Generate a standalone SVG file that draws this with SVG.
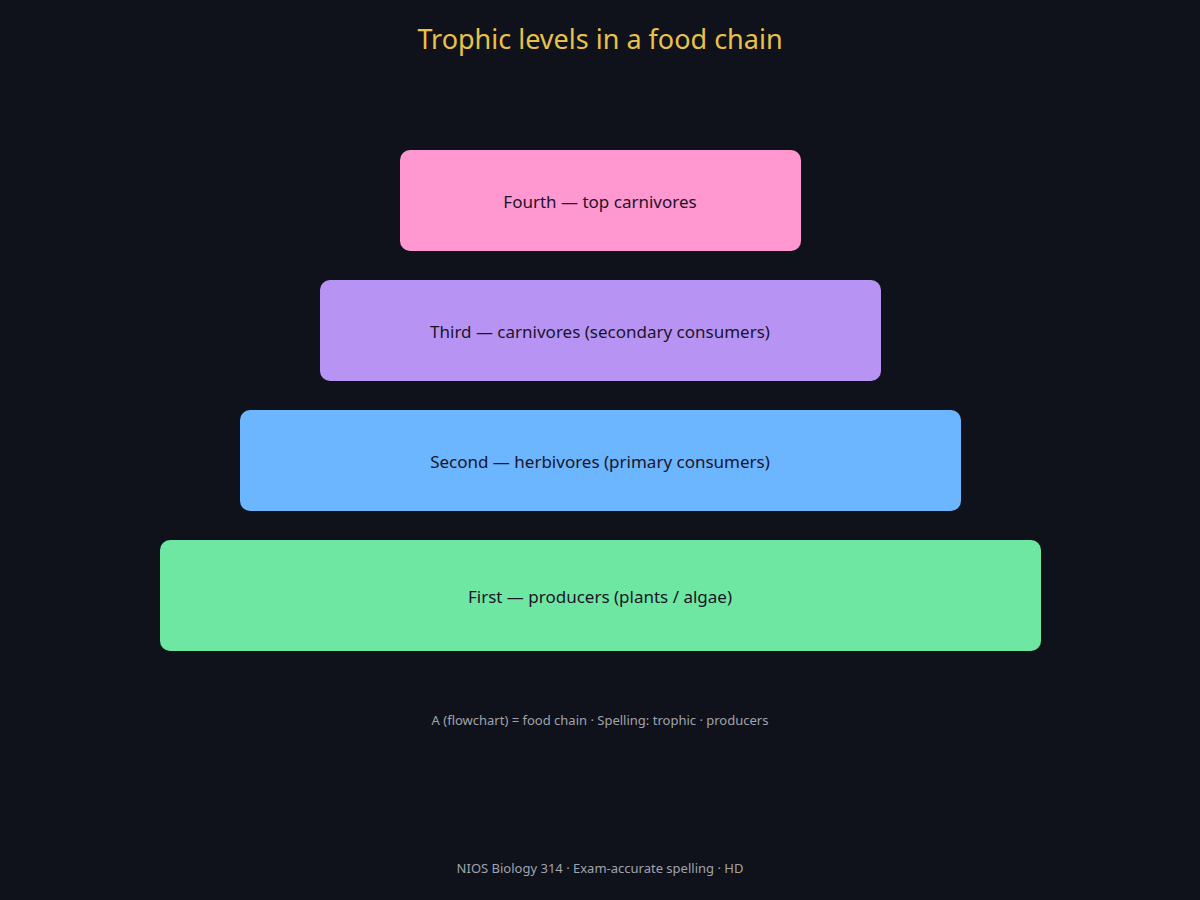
<svg xmlns="http://www.w3.org/2000/svg" width="1200" height="900" viewBox="0 0 1200 900">
<style>
.bg{fill:#0f121a}
.title{font-family:"Noto Sans","Open Sans",sans-serif;font-size:27px;fill:#e8c14a;text-anchor:middle}
.lbl{font-family:"Noto Sans","Open Sans",sans-serif;font-size:17px;fill:#1b1428;text-anchor:middle;dominant-baseline:central}
.note{font-family:"Noto Sans","Open Sans",sans-serif;font-size:13px;fill:#a0a4ad;text-anchor:middle}
</style>
<rect class="bg" x="0" y="0" width="1200" height="900"/>
<text class="title" x="600" y="49">Trophic levels in a food chain</text>
<g id="connectors"></g>
<g id="fourth">
<rect x="400" y="150" width="401" height="101" rx="10" fill="#ff98d0"/>
<text class="lbl" x="600" y="201">Fourth — top carnivores</text>
</g>
<g id="third">
<rect x="320" y="280" width="561" height="101" rx="10" fill="#b794f4"/>
<text class="lbl" x="600" y="331">Third — carnivores (secondary consumers)</text>
</g>
<g id="second">
<rect x="240" y="410" width="721" height="101" rx="10" fill="#6cb6ff"/>
<text class="lbl" x="600" y="461">Second — herbivores (primary consumers)</text>
</g>
<g id="first">
<rect x="160" y="540" width="881" height="111" rx="10" fill="#6ee7a2"/>
<text class="lbl" x="600" y="596">First — producers (plants / algae)</text>
</g>
<text class="note" x="600" y="725">A (flowchart) = food chain · Spelling: trophic · producers</text>
<text class="note" x="600" y="873">NIOS Biology 314 · Exam-accurate spelling · HD</text>
</svg>
